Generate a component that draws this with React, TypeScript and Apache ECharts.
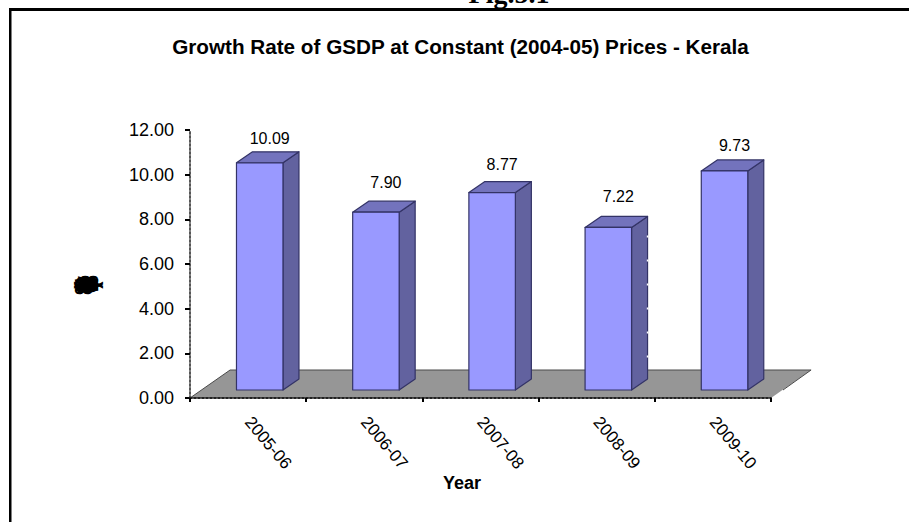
import React, { useEffect, useRef } from "react";
import * as echarts from "echarts";

const categories = ["2005-06", "2006-07", "2007-08", "2008-09", "2009-10"];
const growth = [10.09, 7.9, 8.77, 7.22, 9.73];
const valueLabels = ["10.09", "7.90", "8.77", "7.22", "9.73"];
const blobGlyphs = ["(", "%", ")", "G", "o", "w", "R", "a", "(", "%", ")", "G", "o", "w"];

const SANS = '"Liberation Sans", Arial, sans-serif';
const FRONT = "#9999ff";
const SIDE = "#62629f";
const TOP = "#7373bd";
const EDGE = "#333366";

function renderFloor(params: any, api: any) {
  const cs = params.coordSys;
  const band = api.size([1, 0])[0];
  const dx = band * 0.345;
  const dy = 28;
  const y0 = cs.y + cs.height;
  const x0 = cs.x;
  const x1 = cs.x + cs.width;
  return {
    type: "group",
    children: [
      {
        type: "polygon",
        shape: { points: [[x0, y0], [x1, y0], [x1 + dx, y0 - dy], [x0 + dx, y0 - dy]] },
        style: { fill: "#969696", stroke: "none" },
      },
      {
        type: "polyline",
        shape: { points: [[x0, y0], [x0 + dx, y0 - dy], [x1 + dx, y0 - dy], [x1 + 12, y0 - 8]] },
        style: { fill: "none", stroke: "#4a4a4a", lineWidth: 1 },
      },
    ],
  };
}

function renderBar(params: any, api: any) {
  const idx = api.value(0);
  const v = api.value(1);
  const pt = api.coord([idx, v]);
  const zeroY = api.coord([idx, 0])[1];
  const band = api.size([1, 0])[0];
  const w = band * 0.4;
  const cx = pt[0] + band * 0.1;
  const l = cx - w / 2;
  const r = cx + w / 2;
  const base = zeroY - 8;
  const top = base - (zeroY - pt[1]) * 1.008;
  const dx = 16;
  const dy = 11;
  const style = (fill: string) => ({ fill, stroke: EDGE, lineWidth: 1.2, lineJoin: "round" });
  const children: any[] = [
    { type: "polygon", shape: { points: [[r, top], [r + dx, top - dy], [r + dx, base - dy], [r, base]] }, style: style(SIDE) },
    { type: "polygon", shape: { points: [[l, top], [l + dx, top - dy], [r + dx, top - dy], [r, top]] }, style: style(TOP) },
    { type: "rect", shape: { x: l, y: top, width: w, height: base - top }, style: style(FRONT) },
    {
      type: "text",
      style: {
        text: valueLabels[idx],
        x: cx + 10,
        y: pt[1] + (zeroY - pt[1]) * 0.095 - 56,
        align: "center",
        verticalAlign: "middle",
        font: `16px ${SANS}`,
        fill: "#000",
      },
    },
  ];
  if (idx === 3) {
    children.push({
      type: "line",
      shape: { x1: r + dx, y1: top + 8, x2: r + dx, y2: base - dy },
      style: { stroke: "#fff", lineWidth: 1.5, lineDash: [2, 22] },
    });
  }
  return { type: "group", children };
}

export default function App() {
  const ref = useRef<HTMLDivElement>(null);
  useEffect(() => {
    const chart = echarts.init(ref.current!, undefined, { renderer: "svg" });
    chart.setOption({
      animation: false,
      backgroundColor: "#fff",
      title: {
        text: "Growth Rate of GSDP at Constant (2004-05) Prices - Kerala",
        left: 455.5,
        top: 31,
        textAlign: "center",
        textStyle: { fontFamily: SANS, fontSize: 20.7, fontWeight: "bold", color: "#000" },
      },
      grid: { left: 190, right: 138, top: 130, bottom: 124 },
      xAxis: {
        type: "category",
        data: categories,
        axisLine: { lineStyle: { color: "#222", type: "dotted", width: 2 } },
        axisTick: { show: true, length: 4, alignWithLabel: false, lineStyle: { color: "#000", width: 2 } },
        axisLabel: { rotate: -50, margin: 21, fontFamily: SANS, fontSize: 17, color: "#000", interval: 0 },
        z: 5,
      },
      yAxis: {
        type: "value",
        min: 0,
        max: 12,
        interval: 2,
        splitLine: { show: false },
        axisLine: { show: true, lineStyle: { color: "#555", type: "dotted", width: 2 } },
        axisTick: { show: true, length: 5, lineStyle: { color: "#000", width: 2 } },
        axisLabel: {
          margin: 16,
          fontFamily: SANS,
          fontSize: 18,
          color: "#000",
          formatter: (v: number) => v.toFixed(2),
        },
      },
      series: [
        { type: "custom", data: [[0, 0]], renderItem: renderFloor, z: 1, silent: true, clip: false },
        {
          type: "custom",
          data: growth.map((v, i) => [i, v]),
          renderItem: renderBar,
          encode: { x: 0, y: 1 },
          z: 3,
          silent: true,
          clip: false,
        },
      ],
      graphic: [
        { type: "rect", shape: { x: 9, y: 8, width: 900, height: 3 }, style: { fill: "#000" } },
        { type: "rect", shape: { x: 9, y: 8, width: 2.5, height: 514 }, style: { fill: "#000" } },
        {
          type: "text",
          style: {
            text: "Fig.5.1",
            x: 509,
            y: -21,
            align: "center",
            font: 'bold 28px "Liberation Serif", serif',
            fill: "#000",
          },
        },
        {
          type: "text",
          style: {
            text: "Year",
            x: 462,
            y: 483,
            align: "center",
            verticalAlign: "middle",
            font: `bold 18px ${SANS}`,
            fill: "#000",
          },
        },
        ...blobGlyphs.map((g, i) => ({
          type: "text",
          x: i < 7 ? 82 : 90,
          y: 285,
          rotation: Math.PI / 2,
          style: {
            text: g,
            align: "center",
            verticalAlign: "middle",
            font: `bold 22px ${SANS}`,
            fill: "#000",
          },
        })),
      ],
    });
    return () => chart.dispose();
  }, []);
  return <div ref={ref} style={{ position: "fixed", left: 0, top: 0, width: 909, height: 522 }} />;
}
